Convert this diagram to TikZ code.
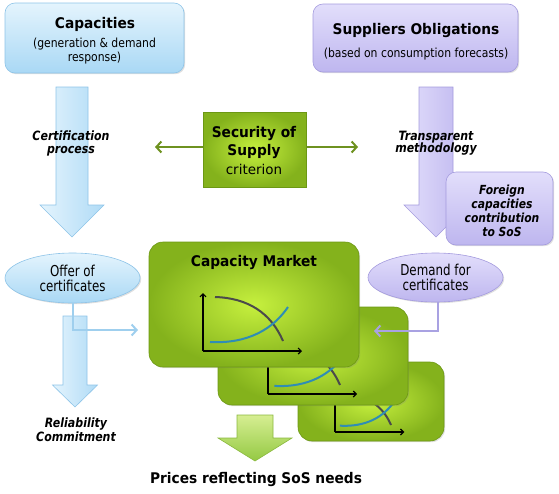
\documentclass[tikz,border=0pt]{standalone}
\usepackage{fontspec}
\setmainfont{DejaVu Sans}
\newfontfamily\titlefont{DejaVu Sans}[FakeStretch=0.935]
\newfontfamily\subfont{DejaVu Sans}[FakeStretch=0.866]
\newfontfamily\labelfont{DejaVu Sans}[FakeStretch=0.86]
\newfontfamily\ellfont{DejaVu Sans}[FakeStretch=0.79]
\usetikzlibrary{arrows.meta,shadows,shapes.geometric}
\definecolor{bluetop}{HTML}{E4F4FD}
\definecolor{bluebot}{HTML}{A9D8F5}
\definecolor{blueedge}{HTML}{8EC4E8}
\definecolor{purptop}{HTML}{E2DEFB}
\definecolor{purpbot}{HTML}{BEB6EF}
\definecolor{purpedge}{HTML}{A49BDE}
\definecolor{greenin}{HTML}{C6F03E}
\definecolor{greenout}{HTML}{84B21C}
\definecolor{greenedge}{HTML}{6C9814}
\definecolor{arrowgreen}{HTML}{6E9220}
\definecolor{bluecon}{HTML}{9FCFEE}
\definecolor{purpcon}{HTML}{A9A2E2}
\definecolor{demandcol}{HTML}{4B4B4B}
\definecolor{supplycol}{HTML}{2F8DB5}
\definecolor{lgtop}{HTML}{D6EE92}
\definecolor{lgbot}{HTML}{94C943}
\definecolor{lgedge}{HTML}{8AB83E}
\definecolor{arrowblueright}{HTML}{B0DBF6}
\tikzset{
  bluebox/.style={rectangle, rounded corners=10pt, top color=bluetop, bottom color=bluebot, draw=blueedge, line width=0.6pt,
    drop shadow={shadow xshift=1.2pt, shadow yshift=-1.2pt, opacity=0.25}},
  purpbox/.style={rectangle, rounded corners=10pt, top color=purptop, bottom color=purpbot, draw=purpedge, line width=0.6pt,
    drop shadow={shadow xshift=1.2pt, shadow yshift=-1.2pt, opacity=0.25}},
  bluell/.style={ellipse, top color=bluetop, bottom color=bluebot, draw=blueedge, line width=0.6pt, inner sep=0pt,
    drop shadow={shadow xshift=1.2pt, shadow yshift=-1.2pt, opacity=0.25}},
  purpell/.style={ellipse, top color=purptop, bottom color=purpbot, draw=purpedge, line width=0.6pt, inner sep=0pt,
    drop shadow={shadow xshift=1.2pt, shadow yshift=-1.2pt, opacity=0.25}},
  greenbox/.style={rectangle, rounded corners=14pt, inner color=greenin, outer color=greenout, draw=greenedge, line width=0.6pt,
    drop shadow={shadow xshift=1.2pt, shadow yshift=-1.2pt, opacity=0.25}},
  secbox/.style={rectangle, inner color=greenin, outer color=greenout, draw=greenedge, line width=0.6pt},
  titletext/.style={font=\titlefont\fontsize{14.7}{17}\selectfont\bfseries, inner sep=0pt, anchor=base},
  subtext/.style={font=\subfont\fontsize{12.5}{14}\selectfont, align=center, inner sep=0pt},
  labeltext/.style={font=\labelfont\fontsize{12.8}{12.5}\selectfont\bfseries\itshape, align=center, inner sep=0pt},
  ellipsetext/.style={font=\ellfont\fontsize{15}{15}\selectfont, align=center},
  thinarrow/.style={draw=arrowgreen, line width=2pt, -{Straight Barb[length=5pt,width=11pt,line width=2pt]}},
  bluelink/.style={draw=bluecon, line width=2pt, -{Straight Barb[length=5pt,width=11pt,line width=2pt]}},
  purplink/.style={draw=purpcon, line width=2pt, -{Straight Barb[length=5pt,width=11pt,line width=2pt]}},
  axisline/.style={draw=black, line width=1.2pt, -{Straight Barb[length=3pt,width=6pt]}},
  demandline/.style={draw=demandcol, line width=2pt},
  supplyline/.style={draw=supplycol, line width=2pt},
  bigblue/.style={left color=bluetop, right color=arrowblueright, draw=blueedge, line width=0.6pt},
  bigpurp/.style={left color=purptop, right color=purpbot, draw=purpedge, line width=0.6pt},
  biggreen/.style={top color=lgtop, bottom color=lgbot, draw=lgedge, line width=0.6pt},
}
\newcommand{\marketchart}{%
  \draw[axisline] (0,0) -- (0,-58);
  \draw[axisline] (0,0) -- (99,0);
  \draw[demandline] (12,-54) .. controls (45,-53) and (68,-38) .. (80,-10);
  \draw[supplyline] (7,-9) .. controls (45,-7) and (70,-22) .. (85,-44);
}
\begin{document}
\begin{tikzpicture}[x=1pt,y=-1pt]
\useasboundingbox (0,0) rectangle (559,493);

% big block arrows
\path[bigblue] (56,87) -- (88,87) -- (88,205) -- (104,205) -- (72,237) -- (40,205) -- (56,205) -- cycle;
\path[bigpurp] (419,87) -- (453,87) -- (453,205) -- (468,205) -- (436,237) -- (404,205) -- (419,205) -- cycle;
\path[bigblue] (63,316) -- (87,316) -- (87,385) -- (97.5,385) -- (75,407) -- (52.5,385) -- (63,385) -- cycle;
\path[biggreen] (237,415) -- (273,415) -- (273,438) -- (292,438) -- (255,461) -- (218,438) -- (237,438) -- cycle;

% top boxes
\node[bluebox, minimum width=179pt, minimum height=70pt] (cap) at (94.5,38) {};
\node[titletext] (capT) at (95,28) {Capacities};
\node[subtext] (capS) at (94.5,51) {(generation \& demand\\response)};

\node[purpbox, minimum width=205pt, minimum height=68pt] (sup) at (415.5,38) {};
\node[titletext] (supT) at (416,34.5) {Suppliers Obligations};
\node[subtext, anchor=base] (supS) at (416,57.5) {(based on consumption forecasts)};

% security of supply
\node[secbox, minimum width=103pt, minimum height=75pt] (sec) at (254.5,149.5) {};
\node[font=\fontsize{13.5}{18.4}\selectfont, align=center, inner sep=0pt] (secT) at (254,150.5)
  {{\titlefont\fontsize{14.7}{18.4}\selectfont\bfseries Security of}\\{\titlefont\fontsize{14.7}{18.4}\selectfont\bfseries Supply}\\criterion};
\coordinate (sl) at (155,147);
\coordinate (sr) at (358,147);
\draw[thinarrow] (sl -| sec.west) -- (sl);
\draw[thinarrow] (sr -| sec.east) -- (sr);

% labels on arrows
\node[labeltext] (certif) at (71,143.5) {Certification\\process};
\node[labeltext] (transp) at (436,143) {Transparent\\methodology};

% foreign capacities
\node[purpbox, minimum width=107pt, minimum height=73pt] (foreign) at (499.5,208.5) {};
\node[labeltext, font=\labelfont\fontsize{12.5}{13.8}\selectfont\bfseries\itshape] (foreignT) at (502,211)
  {Foreign\\capacities\\contribution\\to SoS};

% capacity market boxes
\node[greenbox, minimum width=146pt, minimum height=79pt] (cm3) at (371,401.5) {};
\begin{scope}[shift={(335,432)}, scale=0.7]\marketchart\end{scope}
\node[greenbox, minimum width=190pt, minimum height=98pt] (cm2) at (313,356) {};
\begin{scope}[shift={(268,394)}, scale=0.9]\marketchart\end{scope}
\node[greenbox, minimum width=210pt, minimum height=125pt] (cm1) at (254,304.5) {};
\begin{scope}[shift={(203,351)}]\marketchart\end{scope}
\node[titletext] (cmT) at (254,266.5) {Capacity Market};

% ellipses and links
\node[bluell, minimum width=135pt, minimum height=50pt, ellipsetext] (offer) at (72.5,278) {Offer of\\certificates};
\node[purpell, minimum width=135pt, minimum height=49pt, ellipsetext] (demand) at (435.5,277.5) {Demand for\\certificates};
\coordinate (oa) at (138,330);
\coordinate (da) at (374,331);
\draw[bluelink] (offer.south) |- (oa);
\draw[purplink] ([xshift=2.5pt]demand.south) |- (da);

% bottom texts
\node[labeltext, font=\labelfont\fontsize{12.8}{14}\selectfont\bfseries\itshape] (reli) at (76,430) {Reliability\\Commitment};
\node[titletext] (prices) at (256,483.7) {Prices reflecting SoS needs};
\end{tikzpicture}
\end{document}
